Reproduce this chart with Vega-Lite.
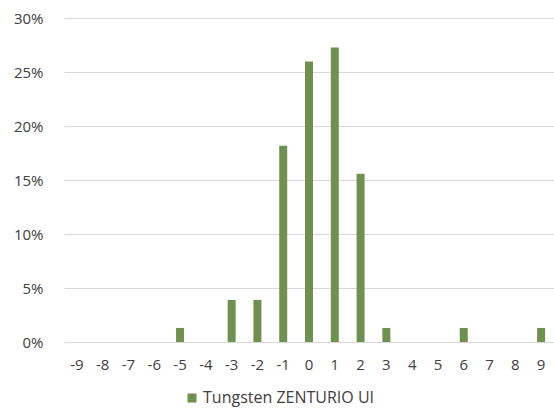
{
  "$schema": "https://vega.github.io/schema/vega-lite/v6.json",
  "width": 490,
  "height": 324,
  "autosize": "none",
  "padding": {"left": 64, "top": 18, "right": 0, "bottom": 67},
  "background": "white",
  "config": {
    "view": {"stroke": null},
    "font": "Open Sans"
  },
  "data": {
    "values": [
      {"k": "-9", "v": 0, "s": "Tungsten ZENTURIO UI"},
      {"k": "-8", "v": 0, "s": "Tungsten ZENTURIO UI"},
      {"k": "-7", "v": 0, "s": "Tungsten ZENTURIO UI"},
      {"k": "-6", "v": 0, "s": "Tungsten ZENTURIO UI"},
      {"k": "-5", "v": 0.013, "s": "Tungsten ZENTURIO UI"},
      {"k": "-4", "v": 0, "s": "Tungsten ZENTURIO UI"},
      {"k": "-3", "v": 0.039, "s": "Tungsten ZENTURIO UI"},
      {"k": "-2", "v": 0.039, "s": "Tungsten ZENTURIO UI"},
      {"k": "-1", "v": 0.1818, "s": "Tungsten ZENTURIO UI"},
      {"k": "0", "v": 0.2597, "s": "Tungsten ZENTURIO UI"},
      {"k": "1", "v": 0.2727, "s": "Tungsten ZENTURIO UI"},
      {"k": "2", "v": 0.1558, "s": "Tungsten ZENTURIO UI"},
      {"k": "3", "v": 0.013, "s": "Tungsten ZENTURIO UI"},
      {"k": "4", "v": 0, "s": "Tungsten ZENTURIO UI"},
      {"k": "5", "v": 0, "s": "Tungsten ZENTURIO UI"},
      {"k": "6", "v": 0.013, "s": "Tungsten ZENTURIO UI"},
      {"k": "7", "v": 0, "s": "Tungsten ZENTURIO UI"},
      {"k": "8", "v": 0, "s": "Tungsten ZENTURIO UI"},
      {"k": "9", "v": 0.013, "s": "Tungsten ZENTURIO UI"}
    ]
  },
  "mark": {"type": "bar"},
  "encoding": {
    "x": {
      "field": "k",
      "type": "ordinal",
      "sort": null,
      "scale": {"paddingInner": 0.69, "paddingOuter": 0.345},
      "axis": {
        "title": null,
        "labelAngle": 0,
        "domain": false,
        "ticks": false,
        "labelPadding": 15,
        "labelFontSize": 15,
        "labelColor": "#404040",
        "labelFont": "Open Sans"
      }
    },
    "y": {
      "field": "v",
      "type": "quantitative",
      "scale": {"domain": [0, 0.3], "nice": false},
      "axis": {
        "title": null,
        "values": [0, 0.05, 0.1, 0.15, 0.2, 0.25, 0.3],
        "format": ".0%",
        "domain": false,
        "ticks": false,
        "labelPadding": 21,
        "labelFontSize": 15,
        "labelColor": "#404040",
        "labelFont": "Open Sans",
        "gridColor": "#d9d9d9",
        "gridWidth": 1
      }
    },
    "color": {
      "field": "s",
      "type": "nominal",
      "scale": {"range": ["#70904f"]},
      "legend": {
        "title": null,
        "orient": "none",
        "legendX": 120,
        "legendY": 372,
        "direction": "horizontal",
        "symbolType": "square",
        "symbolSize": 81,
        "symbolStrokeWidth": 0,
        "labelFontSize": 16,
        "labelColor": "#404040",
        "labelFont": "Open Sans",
        "labelOffset": 3,
        "labelLimit": 0
      }
    }
  }
}
